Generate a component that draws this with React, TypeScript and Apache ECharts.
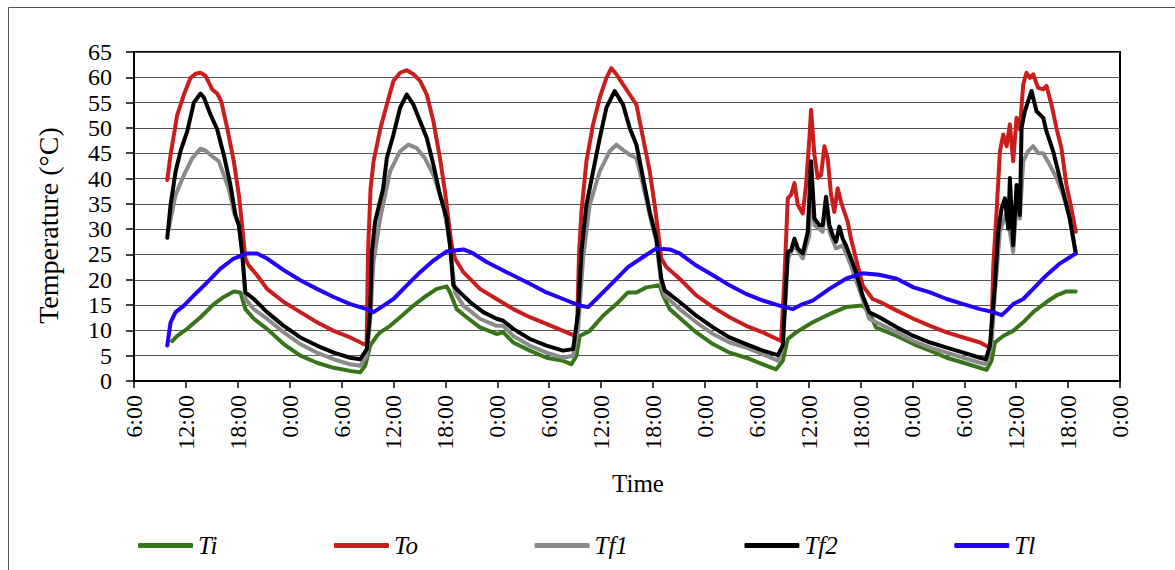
import React, { useEffect, useRef } from "react";
import * as echarts from "echarts";

const FONT = "Liberation Serif";

const seriesNames = ["Ti", "To", "Tf1", "Tf2", "Tl"];
const seriesColors = ["#367518", "#cc1d1d", "#8a8a8a", "#000000", "#2200ff"];

// time in hours from 6:00 of day 1
const toData: [number, number][] = [
  [3.85,39.7],[4.23,44.7],[5.0,52.6],[5.77,56.6],[6.54,59.9],[7.12,60.7],[7.69,60.9],[8.27,60.3],[9.04,57.6],[9.62,56.8],[10.08,55.3],[10.77,50],[11.54,43.4],[12.12,36.8],[12.5,30.8],[12.88,24.2],[13.27,22.8],[14.23,20.9],[15.38,18.2],[17.31,15.6],[19.23,13.6],[21.15,11.6],[23.08,9.9],[25.0,8.6],[26.54,7.3],[26.9,7.2],[27.05,25],[27.35,38],[27.7,43.4],[28.5,50],[29.23,54.6],[30.0,59.3],[30.77,60.9],[31.54,61.4],[32.31,60.6],[33.08,59.3],[33.85,56.6],[34.62,51.3],[35.38,44],[35.96,37.4],[36.34,32.1],[36.73,26.8],[37.11,24.2],[38.08,21.5],[40.0,18.2],[41.92,16.2],[43.85,14.2],[45.77,12.6],[47.69,11.3],[49.61,9.9],[51.0,8.9],[51.2,8.8],[51.45,25],[51.73,33.4],[52.31,43.4],[53.08,50.7],[53.85,56],[54.62,59.9],[55.19,61.8],[55.77,60.6],[56.54,58.6],[57.31,56.6],[58.09,54.6],[58.86,48],[59.63,41.4],[60.2,34.8],[60.59,29.5],[60.97,24.2],[61.55,22.5],[63.09,20.2],[65.01,16.9],[66.94,14.6],[68.86,12.6],[70.78,10.9],[72.7,9.6],[74.82,7.9],[75.2,20.2],[75.59,36.1],[75.97,36.8],[76.36,39.1],[76.74,34.8],[77.32,33.1],[77.7,38.7],[78.09,48],[78.28,53.6],[78.67,44.7],[79.05,40.1],[79.44,40.7],[79.82,46.4],[80.2,44],[80.59,36.8],[80.97,33.4],[81.36,38.1],[81.74,35.4],[82.13,33.4],[82.51,31.5],[82.9,28.1],[83.47,24.2],[84.24,18.9],[85.4,16.2],[86.27,15.6],[88.19,13.9],[90.12,12.3],[92.04,10.9],[93.96,9.6],[95.89,8.6],[97.81,7.6],[98.58,6.9],[99.1,7],[99.35,22.8],[99.73,33.4],[100.12,45.4],[100.5,48.7],[100.89,46.4],[101.27,50.7],[101.65,43.4],[102.04,52],[102.42,49.7],[102.81,58.6],[103.19,60.9],[103.58,59.9],[103.96,60.6],[104.54,57.9],[105.12,57.6],[105.5,58.3],[106.08,54.6],[106.65,50],[107.23,46],[107.81,38.7],[108.38,34.1],[108.88,29.5],
];

const tf2Data: [number, number][] = [
  [3.85,28.3],[4.23,34.8],[4.81,41.4],[5.38,45.4],[6.15,49.3],[6.92,55],[7.69,56.8],[8.08,56],[8.85,52.6],[9.62,49.7],[10.38,44.7],[11.15,38.7],[11.73,32.8],[12.12,30.8],[12.5,25.5],[12.88,17.5],[13.85,16.2],[15.38,13.6],[17.31,10.9],[19.23,8.6],[21.15,7.0],[23.08,5.6],[25.0,4.6],[26.15,4.3],[26.92,6.3],[27.31,13.6],[27.5,25.5],[27.88,31.5],[28.8,38],[29.23,44],[30.0,48.7],[30.77,54],[31.54,56.6],[32.31,54.6],[33.08,51.3],[33.85,48],[34.62,42.7],[35.38,36.8],[36.15,32.1],[36.54,26.8],[36.92,18.9],[37.69,17.5],[38.85,15.6],[40.38,13.6],[41.92,12.3],[42.69,11.9],[43.85,10.3],[45.77,8.3],[47.69,7.0],[49.61,6.0],[50.77,6.3],[51.35,13.6],[51.73,25.5],[52.31,34.8],[53.08,41.4],[53.85,48],[54.62,54],[55.58,57.3],[56.54,54.6],[57.31,50],[58.09,46.7],[58.86,40.1],[59.63,33.4],[60.4,28.1],[60.97,20.2],[61.36,17.9],[63.09,15.6],[65.01,12.9],[66.94,10.6],[68.86,8.6],[70.78,7.3],[72.7,6.0],[74.44,5.1],[75.01,7],[75.59,25.5],[75.97,25.8],[76.36,28.1],[76.74,26.2],[77.32,25.2],[77.9,29.5],[78.28,43.4],[78.67,32.1],[79.24,30.8],[79.63,30.8],[80.01,36.4],[80.4,30.8],[80.78,28.8],[81.17,27.5],[81.55,30.5],[81.94,28.1],[82.32,26.8],[82.9,24.2],[83.47,21.5],[84.24,16.9],[85.01,13.6],[86.17,12.6],[88.19,10.6],[90.12,8.9],[92.04,7.6],[93.96,6.6],[95.89,5.6],[97.81,4.6],[98.5,4.3],[98.96,7],[99.54,18.9],[99.92,29.5],[100.31,34.1],[100.69,36.1],[101.08,30.1],[101.27,40.1],[101.65,26.8],[102.04,38.7],[102.42,32.8],[102.62,50],[103.0,53.3],[103.38,55.3],[103.77,57.3],[104.35,53.3],[105.12,52],[105.5,49.3],[106.27,45.4],[107.04,40.1],[107.62,36.1],[108.19,32.1],[108.88,25.2],
];

const tf1Data: [number, number][] = [
  [4.04,30],[4.23,32],[4.81,36.8],[5.77,40.7],[6.73,44],[7.69,45.9],[8.27,45.5],[9.04,44.4],[9.81,43.4],[10.38,40.7],[10.96,38],[11.54,33.4],[12.12,30.8],[12.5,25.5],[12.88,16.2],[13.85,14.2],[15.38,12.3],[17.31,9.6],[19.23,7.3],[21.15,5.6],[23.08,4.3],[25.0,3.3],[26.15,3.0],[26.92,5],[27.31,12.3],[27.69,23.5],[28.46,32.1],[29.61,41.4],[30.77,45.4],[31.73,46.7],[32.69,46],[33.65,44],[34.62,40.7],[35.77,34.8],[36.54,26.8],[37.11,17.5],[38.08,14.9],[40.0,12.3],[41.92,10.9],[42.69,10.9],[43.85,8.9],[45.77,7.0],[47.69,5.6],[49.61,4.6],[50.77,5],[51.35,10.3],[51.92,24.2],[52.69,34.8],[53.85,41.4],[55.0,45.4],[55.77,46.7],[56.73,45.4],[57.31,44.7],[58.09,44],[58.86,38.7],[59.63,32.8],[60.4,27.5],[60.97,18.9],[61.36,16.9],[63.09,14.2],[65.01,11.6],[66.94,9.3],[68.86,7.6],[70.78,6.6],[72.7,5.3],[74.44,4.0],[75.01,6.6],[75.59,24.2],[76.36,26.8],[77.32,24.2],[78.09,28.8],[78.28,41.4],[78.67,30.8],[79.63,29.5],[80.01,35.8],[80.4,29.5],[81.17,26.2],[81.94,26.8],[82.9,22.8],[84.24,16.2],[85.01,12.3],[86.17,11.3],[88.19,9.6],[90.12,7.9],[92.04,6.6],[93.96,5.6],[95.89,4.6],[97.81,3.6],[98.5,3.3],[99.15,7],[99.54,17.5],[100.12,29.5],[100.89,33.4],[101.65,25.5],[102.04,34.8],[102.42,32.1],[102.81,43.4],[103.38,45.4],[103.96,46.4],[104.54,45],[105.12,45],[105.88,42.7],[106.65,40.1],[107.42,36.8],[108.19,32.1],[108.88,25.5],
];

const tiData: [number, number][] = [
  [4.42,7.9],[5.0,8.9],[6.15,10.3],[7.69,12.6],[9.23,15.2],[10.38,16.6],[11.54,17.7],[12.31,17.5],[12.88,14.2],[13.85,12.3],[15.38,10.3],[17.31,7.3],[19.23,5.0],[21.15,3.6],[23.08,2.6],[25.0,2.0],[26.15,1.7],[26.73,3.0],[27.31,7.0],[28.08,8.9],[28.46,9.6],[29.61,10.9],[30.77,12.6],[32.31,14.9],[33.85,16.9],[35.0,18.2],[36.15,18.7],[36.54,17.5],[37.31,14.2],[38.46,12.6],[40.0,10.6],[41.92,9.3],[42.69,9.6],[43.85,7.6],[45.77,6.0],[47.69,4.6],[49.61,4.0],[50.57,3.3],[51.15,5],[51.54,8.9],[52.69,9.9],[54.23,12.9],[55.77,15.2],[57.11,17.5],[58.09,17.5],[59.24,18.5],[60.78,18.9],[61.17,16.9],[61.94,14.2],[63.47,11.9],[65.01,9.6],[66.94,7.3],[68.86,5.6],[70.78,4.6],[72.7,3.3],[74.24,2.3],[75.01,4],[75.59,8.3],[76.55,9.6],[78.47,11.6],[80.4,13.2],[82.32,14.6],[84.24,14.9],[85.01,13.6],[85.78,10.6],[86.17,10.3],[88.19,8.9],[90.12,7.3],[92.04,6.0],[93.96,4.6],[95.89,3.6],[97.81,2.6],[98.58,2.2],[99.15,4],[99.54,7.6],[100.5,8.9],[101.65,9.9],[102.81,11.6],[103.96,13.6],[105.5,15.6],[106.65,16.9],[107.81,17.7],[108.88,17.7],
];

const tlData: [number, number][] = [
  [3.85,7.0],[4.23,11.6],[4.81,13.6],[5.77,14.9],[6.92,16.9],[8.46,19.5],[10.0,22.2],[11.54,24.2],[13.08,25.2],[14.23,25.2],[15.38,24.2],[17.31,21.9],[19.23,19.9],[21.15,18.2],[23.08,16.6],[25.0,15.2],[26.92,14.2],[27.69,13.6],[28.5,14.5],[30.0,16.2],[31.54,18.9],[33.08,21.5],[34.62,23.8],[36.15,25.6],[38.08,26],[39.23,25.2],[40.77,23.5],[43.08,21.5],[45.77,19.2],[47.69,17.5],[49.61,16.2],[51.54,14.9],[52.5,14.6],[53.46,16.2],[55.38,19.5],[57.11,22.5],[58.86,24.5],[60.4,26.2],[61.94,26],[63.09,25.2],[65.01,22.8],[66.94,20.9],[68.86,18.9],[70.78,17.2],[72.7,15.9],[74.63,14.9],[76.17,14.2],[77.32,15.2],[78.47,15.9],[80.4,18.2],[82.32,20.2],[84.24,21.3],[86.17,21],[88.19,20.2],[90.12,18.5],[92.04,17.5],[93.96,16.2],[95.89,15.2],[97.81,14.2],[99.35,13.6],[100.31,13],[101.08,14.2],[101.65,15.2],[102.81,16.2],[103.96,18.2],[105.5,20.9],[107.04,23.2],[108.88,25.2],
];

const seriesData = [tiData, toData, tf1Data, tf2Data, tlData];

const X_MIN = 0;
const X_MAX = 114;
const X_STEP = 6;
const START_HOUR = 6;
const Y_MIN = 0;
const Y_MAX = 65;
const Y_STEP = 5;

export default function App() {
  const ref = useRef<HTMLDivElement>(null);
  useEffect(() => {
    if (!ref.current) return;
    const chart = echarts.init(ref.current, undefined, { renderer: "svg" });
    chart.setOption({
      animation: false,
      backgroundColor: "#ffffff",
      textStyle: { fontFamily: FONT },
      graphic: [
        {
          type: "rect",
          shape: { x: 8.5, y: 7.5, width: 1200, height: 600 },
          style: { fill: "none", stroke: "#555555", lineWidth: 1 },
          silent: true,
        },
      ],
      grid: {
        left: 134,
        right: 55,
        top: 52,
        bottom: 189,
        show: true,
        borderColor: "#000",
        borderWidth: 2,
        backgroundColor: "transparent",
      },
      legend: {
        left: 133,
        top: 528,
        itemWidth: 55,
        itemHeight: 5,
        itemGap: 116.5,
        icon: "roundRect",
        data: seriesNames,
        textStyle: {
          fontFamily: FONT,
          fontStyle: "italic",
          fontSize: 25,
          color: "#000",
        },
      },
      xAxis: {
        type: "value",
        min: X_MIN,
        max: X_MAX,
        interval: X_STEP,
        name: "Time",
        nameLocation: "middle",
        nameGap: 90,
        nameTextStyle: {
          fontFamily: FONT,
          fontSize: 25,
          color: "#000",
          padding: [0, 0, 0, 22],
        },
        axisLine: { show: true, onZero: false, lineStyle: { color: "#000", width: 2 } },
        axisTick: { show: true, inside: false, length: 7, lineStyle: { color: "#000", width: 1.5 } },
        splitLine: { show: false },
        axisLabel: {
          rotate: 90,
          margin: 14,
          fontFamily: FONT,
          fontSize: 24,
          color: "#000",
          formatter: (v: number) => `${(START_HOUR + v) % 24}:00`,
        },
      },
      yAxis: {
        type: "value",
        min: Y_MIN,
        max: Y_MAX,
        interval: Y_STEP,
        name: "Temperature (°C)",
        nameLocation: "middle",
        nameRotate: 90,
        nameGap: 72,
        nameTextStyle: {
          fontFamily: FONT,
          fontSize: 28,
          color: "#000",
          padding: [0, 18, 0, 0],
        },
        axisLine: { show: true, lineStyle: { color: "#000", width: 2 } },
        axisTick: { show: true, inside: false, length: 8, lineStyle: { color: "#000", width: 1.5 } },
        splitLine: { show: true, lineStyle: { color: "#555555", width: 1 } },
        axisLabel: {
          margin: 22,
          fontFamily: FONT,
          fontSize: 24,
          color: "#000",
        },
      },
      series: seriesNames.map((name, i) => ({
        name,
        type: "line",
        data: seriesData[i],
        showSymbol: false,
        symbol: "none",
        color: seriesColors[i],
        lineStyle: { color: seriesColors[i], width: 4, cap: "round", join: "round" },
        z: 2 + i,
      })),
    });
    return () => chart.dispose();
  }, []);
  return (
    <div
      ref={ref}
      style={{ position: "absolute", left: 0, top: 0, width: 1175, height: 570, background: "#fff" }}
    />
  );
}
